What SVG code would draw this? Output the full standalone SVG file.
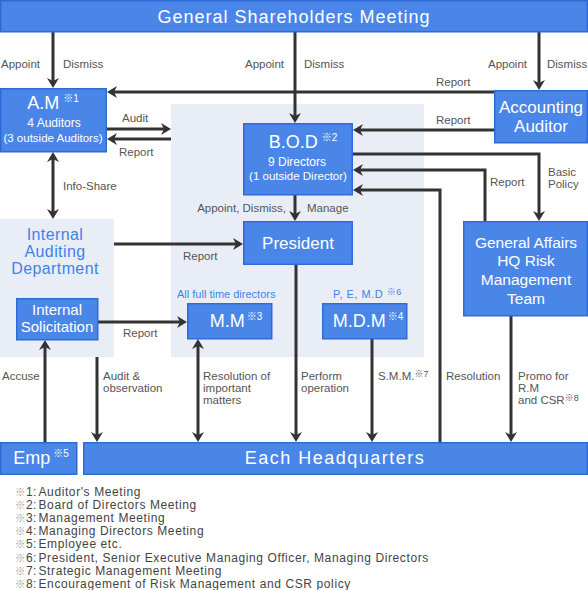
<svg xmlns="http://www.w3.org/2000/svg" width="588" height="590" viewBox="0 0 588 590">
<style>
.box{fill:#4a86e8;stroke:#2f6bd6;stroke-width:1.5}
.panel{fill:#e9eef6}
.wt{fill:#fff;font-family:"Liberation Sans","Noto Sans CJK JP",sans-serif;text-anchor:middle}
.lbl{fill:#555;font-family:"Liberation Sans","Noto Sans CJK JP",sans-serif;font-size:11.5px}
.blue{fill:#3f82e6;font-family:"Liberation Sans","Noto Sans CJK JP",sans-serif}
.note{fill:#444;font-family:"Liberation Sans","Noto Sans CJK JP",sans-serif;font-size:12px}
.nt{letter-spacing:0.6px}
.ref{fill:#999;font-size:10.5px}
.ln{fill:none;stroke:#333;stroke-width:3}
.arr{marker-end:url(#ah)}
.dbl{marker-end:url(#ah);marker-start:url(#ah)}
.sup{font-size:10px}
</style>
<defs>
<marker id="ah" viewBox="-8 -7 12 14" refX="0" refY="0" markerWidth="12" markerHeight="14" markerUnits="userSpaceOnUse" orient="auto-start-reverse">
<path d="M-7,-6 L3,0 L-7,6 L-4,0 z" fill="#333"/>
</marker>
</defs>

<g id="panels">
<rect class="panel" x="171" y="104" width="253" height="253"/>
<rect class="panel" x="0" y="219" width="114" height="138"/>
</g>

<g id="connectors">
<line class="ln arr" x1="53" y1="32" x2="53" y2="85"/>
<line class="ln arr" x1="295" y1="32" x2="295" y2="120"/>
<line class="ln arr" x1="539" y1="32" x2="539" y2="87"/>
<line class="ln arr" x1="494" y1="92" x2="110" y2="92"/>
<line class="ln arr" x1="494" y1="130" x2="356" y2="130"/>
<line class="ln arr" x1="107" y1="129" x2="168" y2="129"/>
<line class="ln arr" x1="171" y1="139" x2="110" y2="139"/>
<line class="ln dbl" x1="53" y1="155" x2="53" y2="216"/>
<line class="ln arr" x1="114" y1="244" x2="240" y2="244"/>
<line class="ln arr" x1="295" y1="195" x2="295" y2="218"/>
<path class="ln arr" d="M353,154 H539 V218"/>
<path class="ln arr" d="M485,221 V170 H356"/>
<path class="ln arr" d="M440,442 V190 H356"/>
<line class="ln arr" x1="98" y1="322" x2="184" y2="322"/>
<line class="ln arr" x1="296" y1="265" x2="296" y2="439"/>
<line class="ln arr" x1="372" y1="339" x2="372" y2="439"/>
<line class="ln dbl" x1="198" y1="342" x2="198" y2="439"/>
<line class="ln arr" x1="97" y1="357" x2="97" y2="439"/>
<line class="ln arr" x1="45" y1="442" x2="45" y2="343"/>
<line class="ln arr" x1="511" y1="316" x2="511" y2="439"/>
</g>

<g id="labels">
<text class="lbl" x="1" y="68">Appoint</text>
<text class="lbl" x="63" y="68">Dismiss</text>
<text class="lbl" x="245" y="68">Appoint</text>
<text class="lbl" x="304" y="68">Dismiss</text>
<text class="lbl" x="488" y="68">Appoint</text>
<text class="lbl" x="547" y="68">Dismiss</text>
<text class="lbl" x="436" y="86">Report</text>
<text class="lbl" x="436" y="124">Report</text>
<text class="lbl" x="122" y="122">Audit</text>
<text class="lbl" x="119" y="156">Report</text>
<text class="lbl" x="63" y="190">Info-Share</text>
<text class="lbl" x="183" y="260">Report</text>
<text class="lbl" x="286" y="212" text-anchor="end">Appoint, Dismiss,</text>
<text class="lbl" x="307" y="212">Manage</text>
<text class="lbl" x="490" y="186">Report</text>
<text class="lbl" x="548" y="176">Basic</text>
<text class="lbl" x="548" y="188">Policy</text>
<text class="lbl" x="123" y="337">Report</text>
<text class="blue" x="177" y="298" font-size="11">All full time directors</text>
<text class="blue" x="333" y="298" font-size="11" letter-spacing="0.5">P, E, M.D <tspan font-size="9" dy="-3">※6</tspan></text>
<text class="lbl" x="2" y="380">Accuse</text>
<text class="lbl" x="103" y="380">Audit &amp;</text>
<text class="lbl" x="103" y="392">observation</text>
<text class="lbl" x="203" y="380">Resolution of</text>
<text class="lbl" x="203" y="392">important</text>
<text class="lbl" x="203" y="404">matters</text>
<text class="lbl" x="301" y="380">Perform</text>
<text class="lbl" x="301" y="392">operation</text>
<text class="lbl" x="378" y="380">S.M.M.<tspan font-size="9" dy="-3">※7</tspan></text>
<text class="lbl" x="446" y="380">Resolution</text>
<text class="lbl" x="518" y="380">Promo for</text>
<text class="lbl" x="518" y="392">R.M</text>
<text class="lbl" x="518" y="404">and CSR<tspan font-size="9" dy="-3">※8</tspan></text>
</g>

<g id="gsm">
<rect class="box" x="0.75" y="0.75" width="586.5" height="31"/>
<text class="wt" x="294" y="23" font-size="18" letter-spacing="1">General Shareholders Meeting</text>
</g>

<g id="am">
<rect class="box" x="0.75" y="88.75" width="105.5" height="63"/>
<text class="wt" x="53" y="109" font-size="18">A.M<tspan class="sup" dx="4" dy="-7">※1</tspan></text>
<text class="wt" x="54" y="127" font-size="12">4  Auditors</text>
<text class="wt" x="53" y="142" font-size="11.5">(3 outside Auditors)</text>
</g>

<g id="aa">
<rect class="box" x="494.75" y="90.75" width="92.5" height="52"/>
<text class="wt" x="541" y="113" font-size="17">Accounting</text>
<text class="wt" x="541" y="132" font-size="17">Auditor</text>
</g>

<g id="bod">
<rect class="box" x="243.75" y="123.75" width="108.5" height="71"/>
<text class="wt" x="303" y="148" font-size="18">B.O.D<tspan class="sup" dx="4" dy="-7">※2</tspan></text>
<text class="wt" x="297" y="166" font-size="12">9 Directors</text>
<text class="wt" x="298" y="180" font-size="11.5">(1 outside Director)</text>
</g>

<g id="president">
<rect class="box" x="243.75" y="221.75" width="108.5" height="42.5"/>
<text class="wt" x="298" y="249" font-size="17">President</text>
</g>

<g id="iad">
<text class="blue" x="55" y="240" font-size="16" letter-spacing="0.4" text-anchor="middle">Internal</text>
<text class="blue" x="55" y="257" font-size="16" letter-spacing="0.4" text-anchor="middle">Auditing</text>
<text class="blue" x="55" y="274" font-size="16" letter-spacing="0.4" text-anchor="middle">Department</text>
</g>

<g id="is">
<rect class="box" x="16.75" y="298.75" width="81" height="41"/>
<text class="wt" x="57" y="315" font-size="15">Internal</text>
<text class="wt" x="57" y="332" font-size="15">Solicitation</text>
</g>

<g id="mm">
<rect class="box" x="187.75" y="303.75" width="84" height="35"/>
<text class="wt" x="236" y="327" font-size="18">M.M<tspan class="sup" dx="2" dy="-7">※3</tspan></text>
</g>

<g id="mdm">
<rect class="box" x="322.75" y="303.75" width="84" height="35"/>
<text class="wt" x="368" y="327" font-size="18">M.D.M<tspan class="sup" dx="2" dy="-7">※4</tspan></text>
</g>

<g id="ga">
<rect class="box" x="463.75" y="221.75" width="123.5" height="94"/>
<text class="wt" x="526" y="247.5" font-size="15.5">General Affairs</text>
<text class="wt" x="526" y="266" font-size="15.5">HQ Risk</text>
<text class="wt" x="526" y="285" font-size="15.5">Management</text>
<text class="wt" x="526" y="303.5" font-size="15.5">Team</text>
</g>

<g id="emp">
<rect class="box" x="0.75" y="442.75" width="76" height="31.5"/>
<text class="wt" x="41" y="464" font-size="18">Emp<tspan class="sup" dx="3" dy="-7">※5</tspan></text>
</g>

<g id="eh">
<rect class="box" x="83.75" y="442.75" width="503.5" height="31.5"/>
<text class="wt" x="335" y="464" font-size="18" letter-spacing="1.5">Each Headquarters</text>
</g>

<g id="notes">
<text class="note" y="495.5"><tspan class="ref" x="15">※</tspan><tspan x="26">1</tspan><tspan x="33">:</tspan><tspan class="nt" x="38.5">Auditor's Meeting</tspan></text>
<text class="note" y="508.7"><tspan class="ref" x="15">※</tspan><tspan x="26">2</tspan><tspan x="33">:</tspan><tspan class="nt" x="38.5">Board of Directors Meeting</tspan></text>
<text class="note" y="521.9"><tspan class="ref" x="15">※</tspan><tspan x="26">3</tspan><tspan x="33">:</tspan><tspan class="nt" x="38.5">Management Meeting</tspan></text>
<text class="note" y="535.1"><tspan class="ref" x="15">※</tspan><tspan x="26">4</tspan><tspan x="33">:</tspan><tspan class="nt" x="38.5">Managing Directors Meeting</tspan></text>
<text class="note" y="548.3"><tspan class="ref" x="15">※</tspan><tspan x="26">5</tspan><tspan x="33">:</tspan><tspan class="nt" x="38.5">Employee etc.</tspan></text>
<text class="note" y="561.5"><tspan class="ref" x="15">※</tspan><tspan x="26">6</tspan><tspan x="33">:</tspan><tspan class="nt" x="38.5">President, Senior Executive Managing Officer, Managing Directors</tspan></text>
<text class="note" y="574.7"><tspan class="ref" x="15">※</tspan><tspan x="26">7</tspan><tspan x="33">:</tspan><tspan class="nt" x="38.5">Strategic Management Meeting</tspan></text>
<text class="note" y="587.9"><tspan class="ref" x="15">※</tspan><tspan x="26">8</tspan><tspan x="33">:</tspan><tspan class="nt" x="38.5">Encouragement of Risk Management and CSR policy</tspan></text>
</g>
</svg>
